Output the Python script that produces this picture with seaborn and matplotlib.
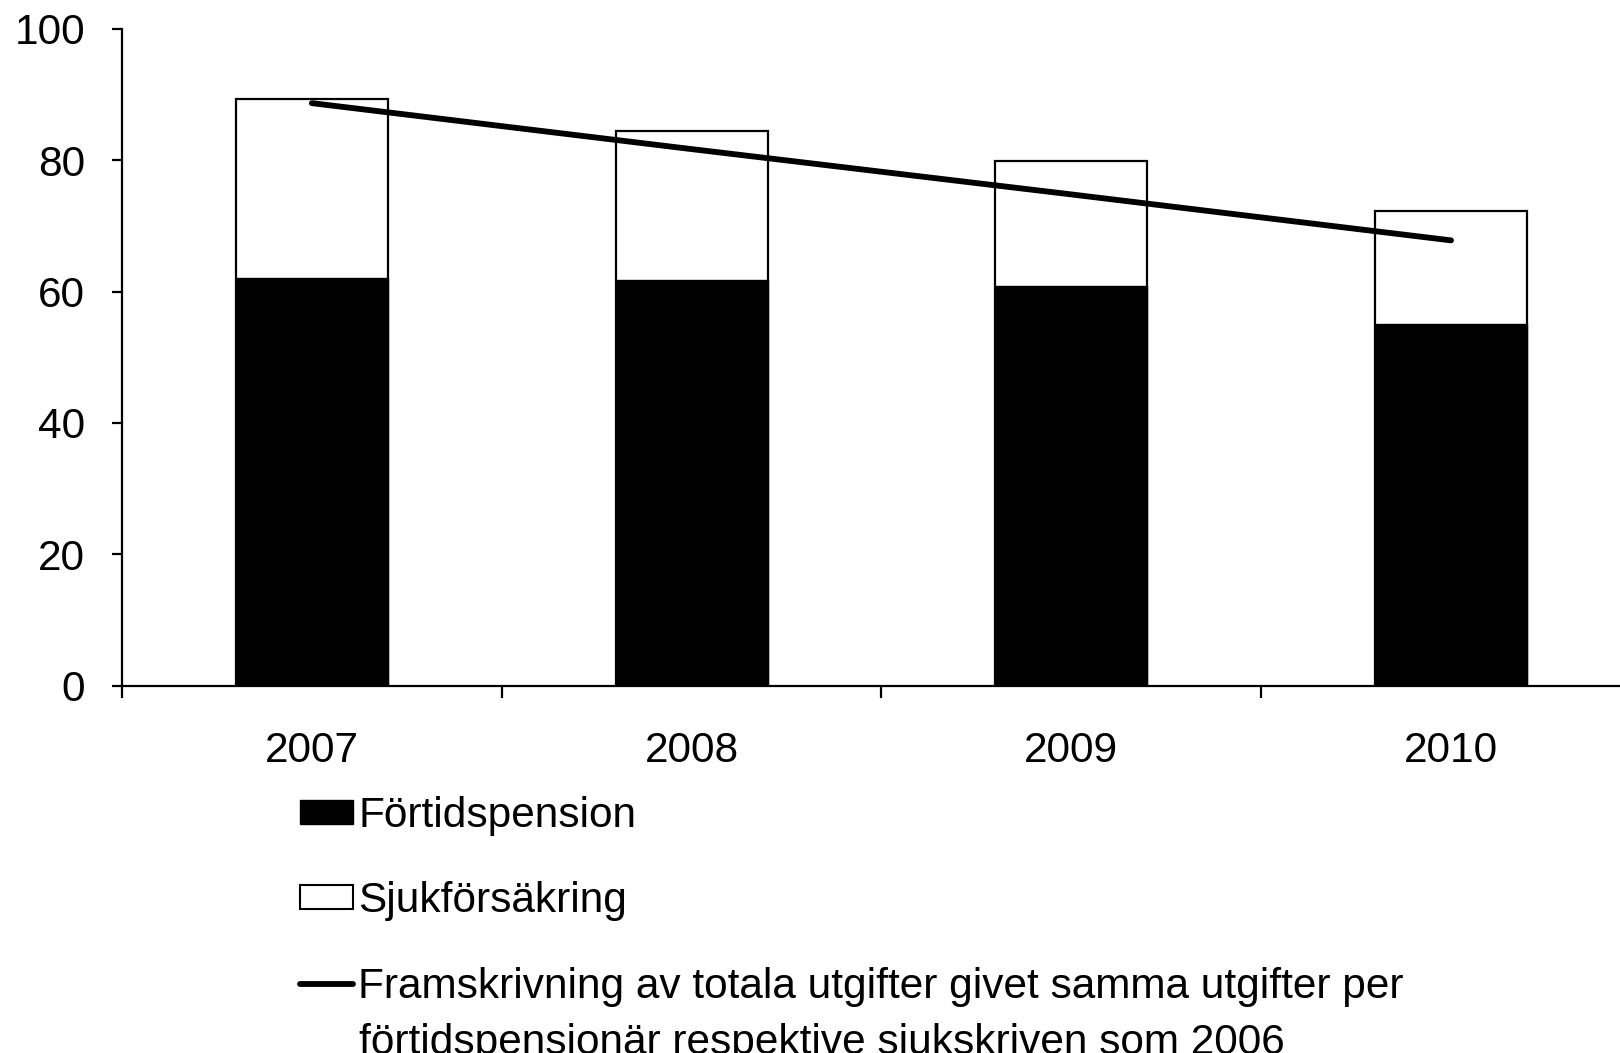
import matplotlib
matplotlib.use("Agg")
import matplotlib.pyplot as plt
import seaborn as sns
from matplotlib.patches import Patch
from matplotlib.lines import Line2D

years = ["2007", "2008", "2009", "2010"]
fortidspension = [62.1, 61.8, 60.8, 55.0]
sjukforsakring = [27.2, 22.6, 19.1, 17.2]
framskrivning = [88.7, 81.7, 74.8, 67.8]

labels = ["Förtidspension", "Sjukförsäkring",
          "Framskrivning av totala utgifter givet samma utgifter per"]
label_cont = "förtidspensionär respektive sjukskriven som 2006"

sns.set_theme(style="white")
plt.rcParams["font.family"] = ["Liberation Sans", "DejaVu Sans"]
FS = 30.5

totals = [a + b for a, b in zip(fortidspension, sjukforsakring)]

fig = plt.figure(figsize=(16.2, 10.53), dpi=100)
ax = fig.add_axes([0.0753, 0.349, 0.9247, 0.6235])

sns.barplot(x=years, y=totals, color="white", edgecolor="black",
            linewidth=1.6, width=0.4, saturation=1, ax=ax)
sns.barplot(x=years, y=fortidspension, color="black", edgecolor="black",
            linewidth=1.0, width=0.4, saturation=1, ax=ax)
sns.pointplot(x=years, y=framskrivning, color="black", markers="",
              linewidth=4.2, ax=ax)
ax.lines[-1].set_solid_capstyle("round")

ax.set_yticks([0, 20, 40, 60, 80, 100])
ax.set_xticks(range(len(years)))
ax.set_xticklabels(years)
ax.set_xticks([-0.5, 0.5, 1.5, 2.5, 3.5], minor=True)
ax.set_xlim(-0.5, 3.445)
ax.set_ylim(0, 100)
ax.set_xlabel("")
ax.set_ylabel("")

for s in ["top", "right"]:
    ax.spines[s].set_visible(False)
for s in ["left", "bottom"]:
    ax.spines[s].set_color("black")
    ax.spines[s].set_linewidth(1.6)

ax.tick_params(axis="y", which="major", direction="out", length=7.5, width=1.6,
               color="black", labelsize=FS, pad=19, left=True)
ax.tick_params(axis="x", which="major", length=0, labelsize=FS, pad=33)
ax.tick_params(axis="x", which="minor", direction="out", length=8.5, width=1.6,
               color="black", bottom=True)
for t in ax.get_xticklabels() + ax.get_yticklabels():
    t.set_color("black")

handles = [
    Patch(facecolor="black", edgecolor="black", linewidth=1.0),
    Patch(facecolor="white", edgecolor="black", linewidth=1.5),
    Line2D([0], [0], color="black", linewidth=4.2),
]
leg = fig.legend(handles, labels, loc="upper left",
                 bbox_to_anchor=(0.185, 0.244), frameon=False, fontsize=FS,
                 handlelength=1.26, handleheight=0.5, handletextpad=0.12,
                 labelspacing=1.07, borderpad=0, borderaxespad=0)
for t in leg.get_texts():
    t.set_color("black")

fig.text(0.2213, -0.001, label_cont, fontsize=FS, color="black",
         ha="left", va="baseline")

fig.savefig("out.png", dpi=100)
